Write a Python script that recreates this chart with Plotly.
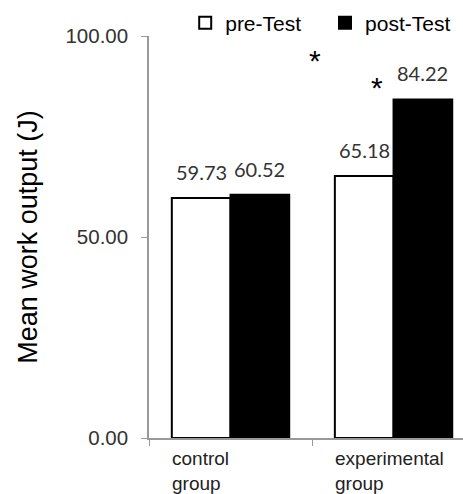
import plotly.graph_objects as go

categories = ["control group", "experimental group"]
tick_labels = ["control<br>group", "experimental<br>group"]
pre_test = [59.73, 65.18]
post_test = [60.52, 84.22]
y_ticks = [0, 50, 100]
y_tick_text = ["0.00", "50.00", "100.00"]
star_x = [0.518, 0.899]
star_y = [94, 87.3]

BARGAP = 0.28
half = (1 - BARGAP) / 4  # offset of each bar's centre from the category centre

label_font = dict(family="Lato, Carlito, Liberation Sans", size=20, color="#333333")

fig = go.Figure()
fig.add_trace(go.Bar(
    name="pre-Test", x=categories, y=pre_test, legend="legend",
    marker=dict(color="white", line=dict(color="black", width=2)),
))
fig.add_trace(go.Bar(
    name="post-Test", x=categories, y=post_test, legend="legend2",
    marker=dict(color="black", line=dict(color="black", width=2)),
))

for i in range(len(categories)):
    for off, vals in ((-half, pre_test), (half, post_test)):
        fig.add_annotation(
            x=i + off, y=vals[i], xref="x", yref="y", text=f"{vals[i]:.2f}",
            showarrow=False, xanchor="center", yanchor="bottom", yshift=12,
            font=label_font,
        )

for i, lab in enumerate(tick_labels):
    fig.add_annotation(
        x=i - 0.37, y=0, xref="x", yref="y", text=lab, showarrow=False,
        xanchor="left", yanchor="top", align="left", yshift=-8,
        font=dict(family="Liberation Sans, Arial", size=19, color="#222222"),
    )
for sx, sy in zip(star_x, star_y):
    fig.add_annotation(
        x=sx, y=sy, xref="x", yref="y", text="*", showarrow=False,
        font=dict(family="Liberation Sans, Arial", size=30, color="black"),
    )

legend_common = dict(
    orientation="h", xref="container", yref="container",
    y=0.953, xanchor="left", yanchor="middle",
    font=dict(family="Liberation Sans, Arial", size=21, color="black"),
    bgcolor="rgba(0,0,0,0)",
)

fig.update_layout(
    width=463, height=494,
    margin=dict(l=149, r=0, t=36, b=56, autoexpand=False),
    plot_bgcolor="white", paper_bgcolor="white",
    barmode="group", bargap=BARGAP, bargroupgap=0,
    showlegend=True,
    legend=dict(x=0.40, **legend_common),
    legend2=dict(x=0.702, **legend_common),
    xaxis=dict(
        range=[-0.5, 1.426], showticklabels=False,
        showline=True, linecolor="#999999", linewidth=1.5,
        ticks="outside", tickson="boundaries", ticklen=6, tickcolor="#999999",
        showgrid=False, zeroline=False,
    ),
    yaxis=dict(
        range=[0, 100], tickvals=y_ticks, ticktext=y_tick_text,
        showline=True, linecolor="#999999", linewidth=1.5,
        ticks="outside", ticklen=6, tickcolor="#999999", ticklabelstandoff=9,
        tickfont=dict(family="Liberation Sans, Arial", size=20.5, color="#333333"),
        showgrid=False, zeroline=False,
        title=dict(text="Mean work output (J)", standoff=20,
                   font=dict(family="Liberation Sans, Arial", size=27, color="black")),
    ),
)

fig.write_html("out.html")
